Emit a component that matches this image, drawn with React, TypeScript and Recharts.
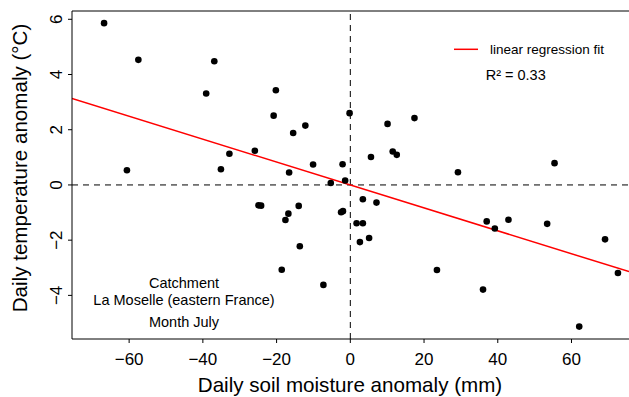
import React from 'react';
import { ScatterChart, Scatter, XAxis, YAxis, ReferenceLine } from 'recharts';

const soilMoisture = [
  -66.8, -57.5, -60.6, -39.1, -36.9, -35.1, -32.8, -25.9, -20.8, -20.2,
  -15.5, -16.6, -12.2, -10.1, -2.1, -5.3, -1.4, -0.2, 5.6, 10.1,
  11.5, 12.6, 17.4, 29.2, 55.4, 3.4, -24.9, -24.2, -14.0, -16.8,
  -17.6, -13.7, -18.6, -7.3, -2.5, -2.0, 7.1, 1.7, 3.4, 2.6,
  5.1, 23.5, 36.0, 37.0, 39.2, 42.9, 53.4, 62.1, 69.1, 72.6,
];
const temperature = [
  5.86, 4.53, 0.53, 3.31, 4.48, 0.57, 1.13, 1.24, 2.51, 3.43,
  1.88, 0.45, 2.15, 0.74, 0.75, 0.07, 0.16, 2.6, 1.01, 2.21,
  1.21, 1.09, 2.42, 0.46, 0.79, -0.52, -0.74, -0.75, -0.76, -1.04,
  -1.27, -2.22, -3.07, -3.62, -0.99, -0.95, -0.64, -1.39, -1.39, -2.07,
  -1.92, -3.08, -3.79, -1.32, -1.58, -1.26, -1.41, -5.13, -1.97, -3.19,
];
const fitLine = [
  { x: -75.5, y: 3.13 },
  { x: 75.6, y: -3.14 },
];
const xTicks = [-60, -40, -20, 0, 20, 40, 60];
const yTicks = [-4, -2, 0, 2, 4, 6];
const xDomain: [number, number] = [-75.5, 75.6];
const yDomain: [number, number] = [-5.58, 6.3];

const points = soilMoisture.map((x, i) => ({ x, y: temperature[i] }));

const FONT = '"Liberation Sans", Arial, Helvetica, sans-serif';

const YTick = (props: any) => {
  const { x, y, payload } = props;
  const bx = x - 6.3;
  const label = payload.value < 0 ? '\u2212' + Math.abs(payload.value) : String(payload.value);
  return (
    <text x={bx} y={y} transform={`rotate(-90 ${bx} ${y})`} textAnchor="middle" fontSize={17} fill="#000" fontFamily={FONT}>
      {label}
    </text>
  );
};

const XTick = (props: any) => {
  const { x, y, payload } = props;
  const label = payload.value < 0 ? '\u2212' + Math.abs(payload.value) : String(payload.value);
  return (
    <text x={x} y={y} dy={12} textAnchor="middle" fontSize={17} fill="#000" fontFamily={FONT}>
      {label}
    </text>
  );
};

const Dot = (props: any) => <circle cx={props.cx} cy={props.cy} r={3.3} fill="#000" />;

export default function App() {
  return (
    <div style={{ position: 'absolute', left: 0, top: 0, width: 629, height: 397, background: '#fff' }}>
      <ScatterChart width={629} height={397} margin={{ top: 11, right: 0, bottom: 0, left: 0 }}>
        <XAxis
          type="number"
          dataKey="x"
          domain={xDomain}
          ticks={xTicks}
          allowDataOverflow
          height={58}
          tickSize={4}
          tickMargin={10}
          tick={<XTick />}
          stroke="#000"
          tickLine={{ stroke: '#000' }}
          axisLine={{ stroke: '#000' }}
        />
        <YAxis
          type="number"
          dataKey="y"
          domain={yDomain}
          ticks={yTicks}
          allowDataOverflow
          width={72}
          tickSize={4}
          tickMargin={0}
          tick={<YTick />}
          stroke="#000"
          tickLine={{ stroke: '#000' }}
          axisLine={{ stroke: '#000' }}
        />
        <ReferenceLine y={yDomain[1]} stroke="#000" strokeWidth={1} />
        <ReferenceLine y={0} stroke="#000" strokeDasharray="6 5" />
        <ReferenceLine x={0} stroke="#000" strokeDasharray="6 5" />
        <ReferenceLine
          segment={[fitLine[0], fitLine[1]]}
          stroke="#ff0000"
          strokeWidth={1.5}
          ifOverflow="hidden"
        />
        <Scatter data={points} shape={<Dot />} isAnimationActive={false} />
      </ScatterChart>
      <svg width={629} height={397} style={{ position: 'absolute', left: 0, top: 0, pointerEvents: 'none' }} fontFamily={FONT}>
        <line x1={454} y1={49.3} x2={478} y2={49.3} stroke="#ff0000" strokeWidth={1.5} />
        <text x={490} y={54} fontSize={13.5} fill="#000">linear regression fit</text>
        <text x={485.7} y={80} fontSize={14.5} fill="#000">R² = 0.33</text>
        <text x={184} y={288.3} fontSize={14.5} textAnchor="middle" fill="#000">Catchment</text>
        <text x={184} y={305} fontSize={14.5} textAnchor="middle" fill="#000">La Moselle (eastern France)</text>
        <text x={184} y={327} fontSize={14.5} textAnchor="middle" fill="#000">Month July</text>
        <text x={350} y={392} fontSize={20.6} textAnchor="middle" fill="#000">Daily soil moisture anomaly (mm)</text>
        <text x={26.7} y={168} fontSize={20.6} textAnchor="middle" fill="#000" transform="rotate(-90 26.7 168)">Daily temperature anomaly (°C)</text>
      </svg>
    </div>
  );
}
